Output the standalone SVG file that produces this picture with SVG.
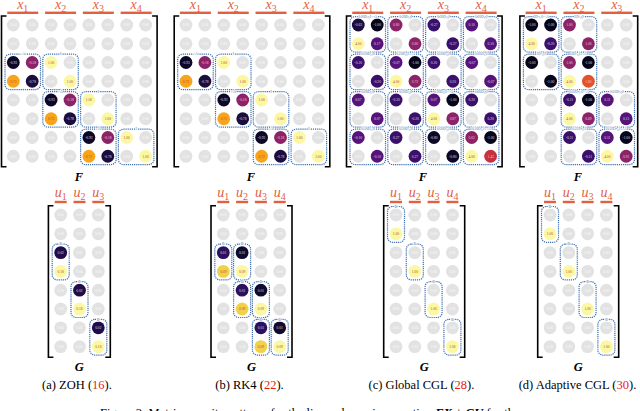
<svg xmlns="http://www.w3.org/2000/svg" xmlns:xlink="http://www.w3.org/1999/xlink" width="640" height="411" viewBox="0 0 640 411">
<style>
text{font-family:"Liberation Serif","Times New Roman","DejaVu Serif",serif}
.t{font-size:3.6px;text-anchor:middle}
.l{fill:#dcdcdc}.d{fill:#c4433a}.m{fill:#f4c2c8}
.bk{fill:none;stroke:#3f6fad;stroke-width:1.2;stroke-dasharray:1.2 0.9}
.bl{font-size:3.6px;fill:#3f6fad;text-anchor:middle;stroke:#fff;stroke-width:1.2;paint-order:stroke}
.br{fill:none;stroke:#000;stroke-width:1.6}
.lab{font-style:italic;font-size:14px;fill:#e2603f;text-anchor:middle}
.sub{font-style:normal;font-size:10px}
.bar{fill:#e2603f}
.mat{font-style:italic;font-weight:bold;font-size:12.5px;fill:#000;text-anchor:middle}
.cap{font-size:12.5px;fill:#000;text-anchor:middle}
.ref{fill:#e8201c}
</style>
<defs>
<g id="z"><circle r="6.4" fill="#e2e2e2"/><text y="1.3" class="t" fill="#fafafa">0.00</text></g>
</defs>

<!-- ===== Panel (a) ===== -->
<g id="panel-a">
<g id="panel-a-Flabels">
<text x="22.75" y="9" class="lab">x<tspan class="sub" dy="2.5">1</tspan></text>
<text x="60.55" y="9" class="lab">x<tspan class="sub" dy="2.5">2</tspan></text>
<text x="98.35" y="9" class="lab">x<tspan class="sub" dy="2.5">3</tspan></text>
<text x="136.15" y="9" class="lab">x<tspan class="sub" dy="2.5">4</tspan></text>
<rect class="bar" x="7.25" y="11.6" width="31" height="2.4"/>
<rect class="bar" x="45.05" y="11.6" width="31" height="2.4"/>
<rect class="bar" x="82.85" y="11.6" width="31" height="2.4"/>
<rect class="bar" x="120.65" y="11.6" width="31" height="2.4"/>
</g>
<path class="br" d="M6.5 16H1.5V166.7H6.5M152.1 16H157.1V166.7H152.1"/>
<g id="panel-a-F" transform="translate(13.3,25)">
<g><use href="#z" x="0"/><use href="#z" x="18.9"/><use href="#z" x="37.8"/><use href="#z" x="56.7"/><use href="#z" x="75.6"/><use href="#z" x="94.5"/><use href="#z" x="113.4"/><use href="#z" x="132.3"/></g>
<g transform="translate(0,18.75)"><use href="#z" x="0"/><use href="#z" x="18.9"/><use href="#z" x="37.8"/><use href="#z" x="56.7"/><use href="#z" x="75.6"/><use href="#z" x="94.5"/><use href="#z" x="113.4"/><use href="#z" x="132.3"/></g>
<g transform="translate(0,37.5)">
<circle cx="0" r="6.4" fill="#0d0828"/><text x="0" y="1.3" class="t l">-0.93</text>
<circle cx="18.9" r="6.4" fill="#8c2369"/><text x="18.9" y="1.3" class="t m">-0.18</text>
<circle cx="37.8" r="6.4" fill="#fbf8a3"/><text x="37.8" y="1.3" class="t d">1.00</text>
<use href="#z" x="56.7"/><use href="#z" x="75.6"/><use href="#z" x="94.5"/><use href="#z" x="113.4"/><use href="#z" x="132.3"/></g>
<g transform="translate(0,56.25)">
<circle cx="0" r="6.4" fill="#f8a41a"/><text x="0" y="1.3" class="t d">0.72</text>
<circle cx="18.9" r="6.4" fill="#1c0d40"/><text x="18.9" y="1.3" class="t l">-0.78</text>
<use href="#z" x="37.8"/>
<circle cx="56.7" r="6.4" fill="#fbf8a3"/><text x="56.7" y="1.3" class="t d">1.00</text>
<use href="#z" x="75.6"/><use href="#z" x="94.5"/><use href="#z" x="113.4"/><use href="#z" x="132.3"/></g>
<g transform="translate(0,75)">
<use href="#z" x="0"/><use href="#z" x="18.9"/>
<circle cx="37.8" r="6.4" fill="#0d0828"/><text x="37.8" y="1.3" class="t l">-0.93</text>
<circle cx="56.7" r="6.4" fill="#8c2369"/><text x="56.7" y="1.3" class="t m">-0.18</text>
<circle cx="75.6" r="6.4" fill="#fbf8a3"/><text x="75.6" y="1.3" class="t d">1.00</text>
<use href="#z" x="94.5"/><use href="#z" x="113.4"/><use href="#z" x="132.3"/></g>
<g transform="translate(0,93.75)">
<use href="#z" x="0"/><use href="#z" x="18.9"/>
<circle cx="37.8" r="6.4" fill="#f8a41a"/><text x="37.8" y="1.3" class="t d">0.72</text>
<circle cx="56.7" r="6.4" fill="#1c0d40"/><text x="56.7" y="1.3" class="t l">-0.78</text>
<use href="#z" x="75.6"/>
<circle cx="94.5" r="6.4" fill="#fbf8a3"/><text x="94.5" y="1.3" class="t d">1.00</text>
<use href="#z" x="113.4"/><use href="#z" x="132.3"/></g>
<g transform="translate(0,112.5)">
<use href="#z" x="0"/><use href="#z" x="18.9"/><use href="#z" x="37.8"/><use href="#z" x="56.7"/>
<circle cx="75.6" r="6.4" fill="#0d0828"/><text x="75.6" y="1.3" class="t l">-0.93</text>
<circle cx="94.5" r="6.4" fill="#8c2369"/><text x="94.5" y="1.3" class="t m">-0.18</text>
<circle cx="113.4" r="6.4" fill="#fbf8a3"/><text x="113.4" y="1.3" class="t d">1.00</text>
<use href="#z" x="132.3"/></g>
<g transform="translate(0,131.25)">
<use href="#z" x="0"/><use href="#z" x="18.9"/><use href="#z" x="37.8"/><use href="#z" x="56.7"/>
<circle cx="75.6" r="6.4" fill="#f8a41a"/><text x="75.6" y="1.3" class="t d">0.72</text>
<circle cx="94.5" r="6.4" fill="#1c0d40"/><text x="94.5" y="1.3" class="t l">-0.78</text>
<use href="#z" x="113.4"/>
<circle cx="132.3" r="6.4" fill="#fbf8a3"/><text x="132.3" y="1.3" class="t d">1.00</text></g>
<rect class="bk" x="-8.3" y="29.2" width="35.5" height="35.35" rx="5"/><text class="bl" x="9.45" y="30.4">−A</text>
<rect class="bk" x="29.5" y="29.2" width="35.5" height="35.35" rx="5"/><text class="bl" x="47.25" y="30.4">I</text>
<rect class="bk" x="29.5" y="66.7" width="35.5" height="35.35" rx="5"/><text class="bl" x="47.25" y="67.9">−A</text>
<rect class="bk" x="67.3" y="66.7" width="35.5" height="35.35" rx="5"/><text class="bl" x="85.05" y="67.9">I</text>
<rect class="bk" x="67.3" y="104.2" width="35.5" height="35.35" rx="5"/><text class="bl" x="85.05" y="105.4">−A</text>
<rect class="bk" x="105.1" y="104.2" width="35.5" height="35.35" rx="5"/><text class="bl" x="122.85" y="105.4">I</text>
</g>
<text x="79" y="180.5" class="mat">F</text>
<g id="panel-a-Glabels">
<text x="60.7" y="197.3" class="lab">u<tspan class="sub" dy="2.5">1</tspan></text>
<text x="79.5" y="197.3" class="lab">u<tspan class="sub" dy="2.5">2</tspan></text>
<text x="98.3" y="197.3" class="lab">u<tspan class="sub" dy="2.5">3</tspan></text>
<rect class="bar" x="54.7" y="200.8" width="12" height="2.4"/>
<rect class="bar" x="73.5" y="200.8" width="12" height="2.4"/>
<rect class="bar" x="92.3" y="200.8" width="12" height="2.4"/>
</g>
<path class="br" d="M53.4 205.7H48.4V357.2H53.4M105.3 205.7H110.3V357.2H105.3"/>
<g id="panel-a-G" transform="translate(60.7,215)">
<g><use href="#z" x="0"/><use href="#z" x="18.8"/><use href="#z" x="37.6"/></g>
<g transform="translate(0,18.8)"><use href="#z" x="0"/><use href="#z" x="18.8"/><use href="#z" x="37.6"/></g>
<g transform="translate(0,37.6)"><circle cx="0" r="6.4" fill="#210c4a"/><text x="0" y="1.3" class="t l">0.02</text><use href="#z" x="18.8"/><use href="#z" x="37.6"/></g>
<g transform="translate(0,56.4)"><circle cx="0" r="6.4" fill="#fbf8a3"/><text x="0" y="1.3" class="t d">0.18</text><use href="#z" x="18.8"/><use href="#z" x="37.6"/></g>
<g transform="translate(0,75.2)"><use href="#z" x="0"/><circle cx="18.8" r="6.4" fill="#210c4a"/><text x="18.8" y="1.3" class="t l">0.02</text><use href="#z" x="37.6"/></g>
<g transform="translate(0,94)"><use href="#z" x="0"/><circle cx="18.8" r="6.4" fill="#fbf8a3"/><text x="18.8" y="1.3" class="t d">0.18</text><use href="#z" x="37.6"/></g>
<g transform="translate(0,112.8)"><use href="#z" x="0"/><use href="#z" x="18.8"/><circle cx="37.6" r="6.4" fill="#210c4a"/><text x="37.6" y="1.3" class="t l">0.02</text></g>
<g transform="translate(0,131.6)"><use href="#z" x="0"/><use href="#z" x="18.8"/><circle cx="37.6" r="6.4" fill="#fbf8a3"/><text x="37.6" y="1.3" class="t d">0.18</text></g>
<rect class="bk" x="-8.5" y="29.1" width="17" height="35.8" rx="5"/><text class="bl" x="0" y="30.3">B</text>
<rect class="bk" x="10.3" y="66.7" width="17" height="35.8" rx="5"/><text class="bl" x="18.8" y="67.9">B</text>
<rect class="bk" x="29.1" y="104.3" width="17" height="35.8" rx="5"/><text class="bl" x="37.6" y="105.5">B</text>
</g>
<text x="79.3" y="370.5" class="mat">G</text>
<text x="77" y="389" class="cap">(a) ZOH (<tspan class="ref">16</tspan>).</text>
</g>

<!-- ===== Panel (b) ===== -->
<g id="panel-b">
<g id="panel-b-Flabels">
<text x="195.45" y="9" class="lab">x<tspan class="sub" dy="2.5">1</tspan></text>
<text x="233.25" y="9" class="lab">x<tspan class="sub" dy="2.5">2</tspan></text>
<text x="271.05" y="9" class="lab">x<tspan class="sub" dy="2.5">3</tspan></text>
<text x="308.85" y="9" class="lab">x<tspan class="sub" dy="2.5">4</tspan></text>
<rect class="bar" x="179.95" y="11.6" width="31" height="2.4"/>
<rect class="bar" x="217.75" y="11.6" width="31" height="2.4"/>
<rect class="bar" x="255.55" y="11.6" width="31" height="2.4"/>
<rect class="bar" x="293.35" y="11.6" width="31" height="2.4"/>
</g>
<path class="br" d="M179.2 16H174.2V166.7H179.2M324.8 16H329.8V166.7H324.8"/>
<g id="panel-b-F" transform="translate(186,25)">
<g><use href="#z" x="0"/><use href="#z" x="18.9"/><use href="#z" x="37.8"/><use href="#z" x="56.7"/><use href="#z" x="75.6"/><use href="#z" x="94.5"/><use href="#z" x="113.4"/><use href="#z" x="132.3"/></g>
<g transform="translate(0,18.75)"><use href="#z" x="0"/><use href="#z" x="18.9"/><use href="#z" x="37.8"/><use href="#z" x="56.7"/><use href="#z" x="75.6"/><use href="#z" x="94.5"/><use href="#z" x="113.4"/><use href="#z" x="132.3"/></g>
<g transform="translate(0,37.5)">
<circle cx="0" r="6.4" fill="#0d0828"/><text x="0" y="1.3" class="t l">-0.93</text>
<circle cx="18.9" r="6.4" fill="#8c2369"/><text x="18.9" y="1.3" class="t m">-0.18</text>
<circle cx="37.8" r="6.4" fill="#fbf8a3"/><text x="37.8" y="1.3" class="t d">1.00</text>
<use href="#z" x="56.7"/><use href="#z" x="75.6"/><use href="#z" x="94.5"/><use href="#z" x="113.4"/><use href="#z" x="132.3"/></g>
<g transform="translate(0,56.25)">
<circle cx="0" r="6.4" fill="#f8a41a"/><text x="0" y="1.3" class="t d">0.72</text>
<circle cx="18.9" r="6.4" fill="#1c0d40"/><text x="18.9" y="1.3" class="t l">-0.78</text>
<use href="#z" x="37.8"/>
<circle cx="56.7" r="6.4" fill="#fbf8a3"/><text x="56.7" y="1.3" class="t d">1.00</text>
<use href="#z" x="75.6"/><use href="#z" x="94.5"/><use href="#z" x="113.4"/><use href="#z" x="132.3"/></g>
<g transform="translate(0,75)">
<use href="#z" x="0"/><use href="#z" x="18.9"/>
<circle cx="37.8" r="6.4" fill="#0d0828"/><text x="37.8" y="1.3" class="t l">-0.93</text>
<circle cx="56.7" r="6.4" fill="#8c2369"/><text x="56.7" y="1.3" class="t m">-0.18</text>
<circle cx="75.6" r="6.4" fill="#fbf8a3"/><text x="75.6" y="1.3" class="t d">1.00</text>
<use href="#z" x="94.5"/><use href="#z" x="113.4"/><use href="#z" x="132.3"/></g>
<g transform="translate(0,93.75)">
<use href="#z" x="0"/><use href="#z" x="18.9"/>
<circle cx="37.8" r="6.4" fill="#f8a41a"/><text x="37.8" y="1.3" class="t d">0.72</text>
<circle cx="56.7" r="6.4" fill="#1c0d40"/><text x="56.7" y="1.3" class="t l">-0.78</text>
<use href="#z" x="75.6"/>
<circle cx="94.5" r="6.4" fill="#fbf8a3"/><text x="94.5" y="1.3" class="t d">1.00</text>
<use href="#z" x="113.4"/><use href="#z" x="132.3"/></g>
<g transform="translate(0,112.5)">
<use href="#z" x="0"/><use href="#z" x="18.9"/><use href="#z" x="37.8"/><use href="#z" x="56.7"/>
<circle cx="75.6" r="6.4" fill="#0d0828"/><text x="75.6" y="1.3" class="t l">-0.93</text>
<circle cx="94.5" r="6.4" fill="#8c2369"/><text x="94.5" y="1.3" class="t m">-0.18</text>
<circle cx="113.4" r="6.4" fill="#fbf8a3"/><text x="113.4" y="1.3" class="t d">1.00</text>
<use href="#z" x="132.3"/></g>
<g transform="translate(0,131.25)">
<use href="#z" x="0"/><use href="#z" x="18.9"/><use href="#z" x="37.8"/><use href="#z" x="56.7"/>
<circle cx="75.6" r="6.4" fill="#f8a41a"/><text x="75.6" y="1.3" class="t d">0.72</text>
<circle cx="94.5" r="6.4" fill="#1c0d40"/><text x="94.5" y="1.3" class="t l">-0.78</text>
<use href="#z" x="113.4"/>
<circle cx="132.3" r="6.4" fill="#fbf8a3"/><text x="132.3" y="1.3" class="t d">1.00</text></g>
<rect class="bk" x="-8.3" y="29.2" width="35.5" height="35.35" rx="5"/><text class="bl" x="9.45" y="30.4">−A</text>
<rect class="bk" x="29.5" y="29.2" width="35.5" height="35.35" rx="5"/><text class="bl" x="47.25" y="30.4">I</text>
<rect class="bk" x="29.5" y="66.7" width="35.5" height="35.35" rx="5"/><text class="bl" x="47.25" y="67.9">−A</text>
<rect class="bk" x="67.3" y="66.7" width="35.5" height="35.35" rx="5"/><text class="bl" x="85.05" y="67.9">I</text>
<rect class="bk" x="67.3" y="104.2" width="35.5" height="35.35" rx="5"/><text class="bl" x="85.05" y="105.4">−A</text>
<rect class="bk" x="105.1" y="104.2" width="35.5" height="35.35" rx="5"/><text class="bl" x="122.85" y="105.4">I</text>
</g>
<text x="251" y="180.5" class="mat">F</text>
<g id="panel-b-Glabels">
<text x="223.3" y="197.3" class="lab">u<tspan class="sub" dy="2.5">1</tspan></text>
<text x="242.1" y="197.3" class="lab">u<tspan class="sub" dy="2.5">2</tspan></text>
<text x="260.9" y="197.3" class="lab">u<tspan class="sub" dy="2.5">3</tspan></text>
<text x="279.7" y="197.3" class="lab">u<tspan class="sub" dy="2.5">4</tspan></text>
<rect class="bar" x="217.3" y="200.8" width="12" height="2.4"/>
<rect class="bar" x="236.1" y="200.8" width="12" height="2.4"/>
<rect class="bar" x="254.9" y="200.8" width="12" height="2.4"/>
<rect class="bar" x="273.7" y="200.8" width="12" height="2.4"/>
</g>
<path class="br" d="M216 205.7H211V357.2H216M287 205.7H292V357.2H287"/>
<g id="panel-b-G" transform="translate(223.3,215)">
<g><use href="#z" x="0"/><use href="#z" x="18.8"/><use href="#z" x="37.6"/><use href="#z" x="56.4"/></g>
<g transform="translate(0,18.8)"><use href="#z" x="0"/><use href="#z" x="18.8"/><use href="#z" x="37.6"/><use href="#z" x="56.4"/></g>
<g transform="translate(0,37.6)">
<circle cx="0" r="6.4" fill="#2c115f"/><text x="0" y="1.3" class="t l">0.01</text>
<circle cx="18.8" r="6.4" fill="#110a2e"/><text x="18.8" y="1.3" class="t l">0.01</text>
<use href="#z" x="37.6"/><use href="#z" x="56.4"/></g>
<g transform="translate(0,56.4)">
<circle cx="0" r="6.4" fill="#f2d14a"/><text x="0" y="1.3" class="t d">0.09</text>
<circle cx="18.8" r="6.4" fill="#fbf8a3"/><text x="18.8" y="1.3" class="t d">0.09</text>
<use href="#z" x="37.6"/><use href="#z" x="56.4"/></g>
<g transform="translate(0,75.2)">
<use href="#z" x="0"/>
<circle cx="18.8" r="6.4" fill="#2c115f"/><text x="18.8" y="1.3" class="t l">0.01</text>
<circle cx="37.6" r="6.4" fill="#110a2e"/><text x="37.6" y="1.3" class="t l">0.01</text>
<use href="#z" x="56.4"/></g>
<g transform="translate(0,94)">
<use href="#z" x="0"/>
<circle cx="18.8" r="6.4" fill="#f2d14a"/><text x="18.8" y="1.3" class="t d">0.09</text>
<circle cx="37.6" r="6.4" fill="#fbf8a3"/><text x="37.6" y="1.3" class="t d">0.09</text>
<use href="#z" x="56.4"/></g>
<g transform="translate(0,112.8)">
<use href="#z" x="0"/><use href="#z" x="18.8"/>
<circle cx="37.6" r="6.4" fill="#2c115f"/><text x="37.6" y="1.3" class="t l">0.01</text>
<circle cx="56.4" r="6.4" fill="#110a2e"/><text x="56.4" y="1.3" class="t l">0.01</text></g>
<g transform="translate(0,131.6)">
<use href="#z" x="0"/><use href="#z" x="18.8"/>
<circle cx="37.6" r="6.4" fill="#f2d14a"/><text x="37.6" y="1.3" class="t d">0.09</text>
<circle cx="56.4" r="6.4" fill="#fbf8a3"/><text x="56.4" y="1.3" class="t d">0.09</text></g>
<rect class="bk" x="-8.5" y="29.1" width="17" height="35.8" rx="5"/><text class="bl" x="0" y="30.3">B</text>
<rect class="bk" x="10.3" y="29.1" width="17" height="35.8" rx="5"/><text class="bl" x="18.8" y="30.3">B</text>
<rect class="bk" x="10.3" y="66.7" width="17" height="35.8" rx="5"/><text class="bl" x="18.8" y="67.9">B</text>
<rect class="bk" x="29.1" y="66.7" width="17" height="35.8" rx="5"/><text class="bl" x="37.6" y="67.9">B</text>
<rect class="bk" x="29.1" y="104.3" width="17" height="35.8" rx="5"/><text class="bl" x="37.6" y="105.5">B</text>
<rect class="bk" x="47.9" y="104.3" width="17" height="35.8" rx="5"/><text class="bl" x="56.4" y="105.5">B</text>
</g>
<text x="251.5" y="370.5" class="mat">G</text>
<text x="249.5" y="389" class="cap">(b) RK4 (<tspan class="ref">22</tspan>).</text>
</g>

<!-- ===== Panel (c) ===== -->
<g id="panel-c">
<g id="panel-c-Flabels">
<text x="367.75" y="9" class="lab">x<tspan class="sub" dy="2.5">1</tspan></text>
<text x="405.55" y="9" class="lab">x<tspan class="sub" dy="2.5">2</tspan></text>
<text x="443.35" y="9" class="lab">x<tspan class="sub" dy="2.5">3</tspan></text>
<text x="481.15" y="9" class="lab">x<tspan class="sub" dy="2.5">4</tspan></text>
<rect class="bar" x="352.25" y="11.6" width="31" height="2.4"/>
<rect class="bar" x="390.05" y="11.6" width="31" height="2.4"/>
<rect class="bar" x="427.85" y="11.6" width="31" height="2.4"/>
<rect class="bar" x="465.65" y="11.6" width="31" height="2.4"/>
</g>
<path class="br" d="M351.5 16H346.5V166.7H351.5M497.1 16H502.1V166.7H497.1"/>
<g id="panel-c-F" transform="translate(358.3,25)">
<g>
<circle cx="0" r="6.4" fill="#1c0d40"/><text x="0" y="1.3" class="t l">-0.63</text>
<circle cx="18.9" r="6.4" fill="#07051a"/><text x="18.9" y="1.3" class="t l">-1.00</text>
<circle cx="37.8" r="6.4" fill="#8c2369"/><text x="37.8" y="1.3" class="t m">0.80</text>
<use href="#z" x="56.7"/>
<circle cx="75.6" r="6.4" fill="#3b0f6c"/><text x="75.6" y="1.3" class="t l">-0.27</text>
<use href="#z" x="94.5"/>
<circle cx="113.4" r="6.4" fill="#57137c"/><text x="113.4" y="1.3" class="t l">0.10</text>
<use href="#z" x="132.3"/></g>
<g transform="translate(0,18.75)">
<circle cx="0" r="6.4" fill="#fbf8a3"/><text x="0" y="1.3" class="t d">4.00</text>
<circle cx="18.9" r="6.4" fill="#57137c"/><text x="18.9" y="1.3" class="t l">0.17</text>
<use href="#z" x="37.8"/>
<circle cx="56.7" r="6.4" fill="#8c2369"/><text x="56.7" y="1.3" class="t m">0.80</text>
<use href="#z" x="75.6"/>
<circle cx="94.5" r="6.4" fill="#3b0f6c"/><text x="94.5" y="1.3" class="t l">-0.27</text>
<use href="#z" x="113.4"/>
<circle cx="132.3" r="6.4" fill="#57137c"/><text x="132.3" y="1.3" class="t l">0.10</text></g>
<g transform="translate(0,37.5)">
<circle cx="0" r="6.4" fill="#3b0f6c"/><text x="0" y="1.3" class="t l">-0.20</text>
<use href="#z" x="18.9"/>
<circle cx="37.8" r="6.4" fill="#57137c"/><text x="37.8" y="1.3" class="t l">-0.07</text>
<circle cx="56.7" r="6.4" fill="#07051a"/><text x="56.7" y="1.3" class="t l">-1.00</text>
<circle cx="75.6" r="6.4" fill="#3b0f6c"/><text x="75.6" y="1.3" class="t l">0.20</text>
<use href="#z" x="94.5"/>
<circle cx="113.4" r="6.4" fill="#57137c"/><text x="113.4" y="1.3" class="t l">-0.07</text>
<use href="#z" x="132.3"/></g>
<g transform="translate(0,56.25)">
<use href="#z" x="0"/>
<circle cx="18.9" r="6.4" fill="#3b0f6c"/><text x="18.9" y="1.3" class="t l">-0.20</text>
<circle cx="37.8" r="6.4" fill="#fbf8a3"/><text x="37.8" y="1.3" class="t d">4.00</text>
<circle cx="56.7" r="6.4" fill="#8c2369"/><text x="56.7" y="1.3" class="t m">0.73</text>
<use href="#z" x="75.6"/>
<circle cx="94.5" r="6.4" fill="#3b0f6c"/><text x="94.5" y="1.3" class="t l">0.20</text>
<use href="#z" x="113.4"/>
<circle cx="132.3" r="6.4" fill="#57137c"/><text x="132.3" y="1.3" class="t l">-0.07</text></g>
<g transform="translate(0,75)">
<circle cx="0" r="6.4" fill="#57137c"/><text x="0" y="1.3" class="t l">0.07</text>
<use href="#z" x="18.9"/>
<circle cx="37.8" r="6.4" fill="#3b0f6c"/><text x="37.8" y="1.3" class="t l">-0.20</text>
<use href="#z" x="56.7"/>
<circle cx="75.6" r="6.4" fill="#57137c"/><text x="75.6" y="1.3" class="t l">0.07</text>
<circle cx="94.5" r="6.4" fill="#07051a"/><text x="94.5" y="1.3" class="t l">-1.00</text>
<circle cx="113.4" r="6.4" fill="#3b0f6c"/><text x="113.4" y="1.3" class="t l">0.20</text>
<use href="#z" x="132.3"/></g>
<g transform="translate(0,93.75)">
<use href="#z" x="0"/>
<circle cx="18.9" r="6.4" fill="#57137c"/><text x="18.9" y="1.3" class="t l">0.07</text>
<use href="#z" x="37.8"/>
<circle cx="56.7" r="6.4" fill="#3b0f6c"/><text x="56.7" y="1.3" class="t l">-0.20</text>
<circle cx="75.6" r="6.4" fill="#fbf8a3"/><text x="75.6" y="1.3" class="t d">4.00</text>
<circle cx="94.5" r="6.4" fill="#8c2369"/><text x="94.5" y="1.3" class="t m">0.87</text>
<use href="#z" x="113.4"/>
<circle cx="132.3" r="6.4" fill="#3b0f6c"/><text x="132.3" y="1.3" class="t l">0.20</text></g>
<g transform="translate(0,112.5)">
<circle cx="0" r="6.4" fill="#57137c"/><text x="0" y="1.3" class="t l">-0.10</text>
<use href="#z" x="18.9"/>
<circle cx="37.8" r="6.4" fill="#3b0f6c"/><text x="37.8" y="1.3" class="t l">0.27</text>
<use href="#z" x="56.7"/>
<circle cx="75.6" r="6.4" fill="#0d0828"/><text x="75.6" y="1.3" class="t l">-0.80</text>
<use href="#z" x="94.5"/>
<circle cx="113.4" r="6.4" fill="#8c2369"/><text x="113.4" y="1.3" class="t m">0.63</text>
<circle cx="132.3" r="6.4" fill="#07051a"/><text x="132.3" y="1.3" class="t l">-1.00</text></g>
<g transform="translate(0,131.25)">
<use href="#z" x="0"/>
<circle cx="18.9" r="6.4" fill="#57137c"/><text x="18.9" y="1.3" class="t l">-0.10</text>
<use href="#z" x="37.8"/>
<circle cx="56.7" r="6.4" fill="#3b0f6c"/><text x="56.7" y="1.3" class="t l">0.27</text>
<use href="#z" x="75.6"/>
<circle cx="94.5" r="6.4" fill="#0d0828"/><text x="94.5" y="1.3" class="t l">-0.80</text>
<circle cx="113.4" r="6.4" fill="#fbf8a3"/><text x="113.4" y="1.3" class="t d">4.00</text>
<circle cx="132.3" r="6.4" fill="#c7313e"/><text x="132.3" y="1.3" class="t m">1.43</text></g>
<rect class="bk" x="-8.3" y="-8.3" width="35.5" height="35.35" rx="5"/><text class="bl" x="9.45" y="-7.1">0.20D₁₁I − A</text>
<rect class="bk" x="29.5" y="-8.3" width="35.5" height="35.35" rx="5"/><text class="bl" x="47.25" y="-7.1">0.20D₁₂I</text>
<rect class="bk" x="67.3" y="-8.3" width="35.5" height="35.35" rx="5"/><text class="bl" x="85.05" y="-7.1">0.20D₁₃I</text>
<rect class="bk" x="105.1" y="-8.3" width="35.5" height="35.35" rx="5"/><text class="bl" x="122.85" y="-7.1">0.20D₁₄I</text>
<rect class="bk" x="-8.3" y="29.2" width="35.5" height="35.35" rx="5"/><text class="bl" x="9.45" y="30.4">0.20D₂₁I</text>
<rect class="bk" x="29.5" y="29.2" width="35.5" height="35.35" rx="5"/><text class="bl" x="47.25" y="30.4">0.20D₂₂I − A</text>
<rect class="bk" x="67.3" y="29.2" width="35.5" height="35.35" rx="5"/><text class="bl" x="85.05" y="30.4">0.20D₂₃I</text>
<rect class="bk" x="105.1" y="29.2" width="35.5" height="35.35" rx="5"/><text class="bl" x="122.85" y="30.4">0.20D₂₄I</text>
<rect class="bk" x="-8.3" y="66.7" width="35.5" height="35.35" rx="5"/><text class="bl" x="9.45" y="67.9">0.20D₃₁I</text>
<rect class="bk" x="29.5" y="66.7" width="35.5" height="35.35" rx="5"/><text class="bl" x="47.25" y="67.9">0.20D₃₂I</text>
<rect class="bk" x="67.3" y="66.7" width="35.5" height="35.35" rx="5"/><text class="bl" x="85.05" y="67.9">0.20D₃₃I − A</text>
<rect class="bk" x="105.1" y="66.7" width="35.5" height="35.35" rx="5"/><text class="bl" x="122.85" y="67.9">0.20D₃₄I</text>
<rect class="bk" x="-8.3" y="104.2" width="35.5" height="35.35" rx="5"/><text class="bl" x="9.45" y="105.4">0.20D₄₁I</text>
<rect class="bk" x="29.5" y="104.2" width="35.5" height="35.35" rx="5"/><text class="bl" x="47.25" y="105.4">0.20D₄₂I</text>
<rect class="bk" x="67.3" y="104.2" width="35.5" height="35.35" rx="5"/><text class="bl" x="85.05" y="105.4">0.20D₄₃I</text>
<rect class="bk" x="105.1" y="104.2" width="35.5" height="35.35" rx="5"/><text class="bl" x="122.85" y="105.4">0.20D₄₄I − A</text>
</g>
<text x="423" y="180.5" class="mat">F</text>
<g id="panel-c-Glabels">
<text x="396" y="197.3" class="lab">u<tspan class="sub" dy="2.5">1</tspan></text>
<text x="414.8" y="197.3" class="lab">u<tspan class="sub" dy="2.5">2</tspan></text>
<text x="433.6" y="197.3" class="lab">u<tspan class="sub" dy="2.5">3</tspan></text>
<text x="452.4" y="197.3" class="lab">u<tspan class="sub" dy="2.5">4</tspan></text>
<rect class="bar" x="390" y="200.8" width="12" height="2.4"/>
<rect class="bar" x="408.8" y="200.8" width="12" height="2.4"/>
<rect class="bar" x="427.6" y="200.8" width="12" height="2.4"/>
<rect class="bar" x="446.4" y="200.8" width="12" height="2.4"/>
</g>
<path class="br" d="M388.7 205.7H383.7V357.2H388.7M459.7 205.7H464.7V357.2H459.7"/>
<g id="panel-c-G" transform="translate(396,215)">
<g><use href="#z" x="0"/><use href="#z" x="18.8"/><use href="#z" x="37.6"/><use href="#z" x="56.4"/></g>
<g transform="translate(0,18.8)"><circle cx="0" r="6.4" fill="#fbf8a3"/><text x="0" y="1.3" class="t d">1.00</text><use href="#z" x="18.8"/><use href="#z" x="37.6"/><use href="#z" x="56.4"/></g>
<g transform="translate(0,37.6)"><use href="#z" x="0"/><use href="#z" x="18.8"/><use href="#z" x="37.6"/><use href="#z" x="56.4"/></g>
<g transform="translate(0,56.4)"><use href="#z" x="0"/><circle cx="18.8" r="6.4" fill="#fbf8a3"/><text x="18.8" y="1.3" class="t d">1.00</text><use href="#z" x="37.6"/><use href="#z" x="56.4"/></g>
<g transform="translate(0,75.2)"><use href="#z" x="0"/><use href="#z" x="18.8"/><use href="#z" x="37.6"/><use href="#z" x="56.4"/></g>
<g transform="translate(0,94)"><use href="#z" x="0"/><use href="#z" x="18.8"/><circle cx="37.6" r="6.4" fill="#fbf8a3"/><text x="37.6" y="1.3" class="t d">1.00</text><use href="#z" x="56.4"/></g>
<g transform="translate(0,112.8)"><use href="#z" x="0"/><use href="#z" x="18.8"/><use href="#z" x="37.6"/><use href="#z" x="56.4"/></g>
<g transform="translate(0,131.6)"><use href="#z" x="0"/><use href="#z" x="18.8"/><use href="#z" x="37.6"/><circle cx="56.4" r="6.4" fill="#fbf8a3"/><text x="56.4" y="1.3" class="t d">1.00</text></g>
<rect class="bk" x="-8.5" y="-8.5" width="17" height="35.8" rx="5"/><text class="bl" x="0" y="-7.3">B</text>
<rect class="bk" x="10.3" y="29.1" width="17" height="35.8" rx="5"/><text class="bl" x="18.8" y="30.3">B</text>
<rect class="bk" x="29.1" y="66.7" width="17" height="35.8" rx="5"/><text class="bl" x="37.6" y="67.9">B</text>
<rect class="bk" x="47.9" y="104.3" width="17" height="35.8" rx="5"/><text class="bl" x="56.4" y="105.5">B</text>
</g>
<text x="424.2" y="370.5" class="mat">G</text>
<text x="421.5" y="389" class="cap">(c) Global CGL (<tspan class="ref">28</tspan>).</text>
</g>

<!-- ===== Panel (d) ===== -->
<g id="panel-d">
<g id="panel-d-Flabels">
<text x="541.15" y="9" class="lab">x<tspan class="sub" dy="2.5">1</tspan></text>
<text x="578.95" y="9" class="lab">x<tspan class="sub" dy="2.5">2</tspan></text>
<text x="616.75" y="9" class="lab">x<tspan class="sub" dy="2.5">3</tspan></text>
<rect class="bar" x="525.65" y="11.6" width="31" height="2.4"/>
<rect class="bar" x="563.45" y="11.6" width="31" height="2.4"/>
<rect class="bar" x="601.25" y="11.6" width="31" height="2.4"/>
</g>
<path class="br" d="M524.9 16H519.9V166.7H524.9M632.7 16H637.7V166.7H632.7"/>
<g id="panel-d-F" transform="translate(531.7,25)">
<g>
<circle cx="0" r="6.4" fill="#07051a"/><text x="0" y="1.3" class="t l">-1.00</text>
<circle cx="18.9" r="6.4" fill="#07051a"/><text x="18.9" y="1.3" class="t l">-1.00</text>
<circle cx="37.8" r="6.4" fill="#8c2369"/><text x="37.8" y="1.3" class="t m">1.00</text>
<use href="#z" x="56.7"/><use href="#z" x="75.6"/><use href="#z" x="94.5"/></g>
<g transform="translate(0,18.75)">
<circle cx="0" r="6.4" fill="#fbf8a3"/><text x="0" y="1.3" class="t d">4.00</text>
<circle cx="18.9" r="6.4" fill="#3b0f6c"/><text x="18.9" y="1.3" class="t l">-0.20</text>
<use href="#z" x="37.8"/>
<circle cx="56.7" r="6.4" fill="#8c2369"/><text x="56.7" y="1.3" class="t m">1.00</text>
<use href="#z" x="75.6"/><use href="#z" x="94.5"/></g>
<g transform="translate(0,37.5)">
<circle cx="0" r="6.4" fill="#07051a"/><text x="0" y="1.3" class="t l">-1.00</text>
<use href="#z" x="18.9"/>
<circle cx="37.8" r="6.4" fill="#8c2369"/><text x="37.8" y="1.3" class="t m">1.00</text>
<circle cx="56.7" r="6.4" fill="#07051a"/><text x="56.7" y="1.3" class="t l">-1.00</text>
<use href="#z" x="75.6"/><use href="#z" x="94.5"/></g>
<g transform="translate(0,56.25)">
<use href="#z" x="0"/>
<circle cx="18.9" r="6.4" fill="#07051a"/><text x="18.9" y="1.3" class="t l">-1.00</text>
<circle cx="37.8" r="6.4" fill="#fbf8a3"/><text x="37.8" y="1.3" class="t d">4.00</text>
<circle cx="56.7" r="6.4" fill="#e4522a"/><text x="56.7" y="1.3" class="t m">1.80</text>
<use href="#z" x="75.6"/><use href="#z" x="94.5"/></g>
<g transform="translate(0,75)">
<use href="#z" x="0"/><use href="#z" x="18.9"/>
<circle cx="37.8" r="6.4" fill="#3b0f6c"/><text x="37.8" y="1.3" class="t l">-0.11</text>
<circle cx="56.7" r="6.4" fill="#07051a"/><text x="56.7" y="1.3" class="t l">-1.00</text>
<circle cx="75.6" r="6.4" fill="#57137c"/><text x="75.6" y="1.3" class="t l">0.11</text>
<use href="#z" x="94.5"/></g>
<g transform="translate(0,93.75)">
<use href="#z" x="0"/><use href="#z" x="18.9"/>
<circle cx="37.8" r="6.4" fill="#fbf8a3"/><text x="37.8" y="1.3" class="t d">4.00</text>
<circle cx="56.7" r="6.4" fill="#8c2369"/><text x="56.7" y="1.3" class="t m">0.69</text>
<use href="#z" x="75.6"/>
<circle cx="94.5" r="6.4" fill="#57137c"/><text x="94.5" y="1.3" class="t l">0.11</text></g>
<g transform="translate(0,112.5)">
<use href="#z" x="0"/><use href="#z" x="18.9"/>
<circle cx="37.8" r="6.4" fill="#3b0f6c"/><text x="37.8" y="1.3" class="t l">-0.11</text>
<use href="#z" x="56.7"/>
<circle cx="75.6" r="6.4" fill="#57137c"/><text x="75.6" y="1.3" class="t l">0.11</text>
<circle cx="94.5" r="6.4" fill="#07051a"/><text x="94.5" y="1.3" class="t l">-1.00</text></g>
<g transform="translate(0,131.25)">
<use href="#z" x="0"/><use href="#z" x="18.9"/><use href="#z" x="37.8"/>
<circle cx="56.7" r="6.4" fill="#3b0f6c"/><text x="56.7" y="1.3" class="t l">-0.11</text>
<circle cx="75.6" r="6.4" fill="#fbf8a3"/><text x="75.6" y="1.3" class="t d">4.00</text>
<circle cx="94.5" r="6.4" fill="#8c2369"/><text x="94.5" y="1.3" class="t m">0.91</text></g>
<rect class="bk" x="-8.3" y="-8.3" width="35.5" height="35.35" rx="5"/><text class="bl" x="9.45" y="-7.1">2D¹₁₁I − A</text>
<rect class="bk" x="29.5" y="-8.3" width="35.5" height="35.35" rx="5"/><text class="bl" x="47.25" y="-7.1">2D¹₁₂I</text>
<rect class="bk" x="-8.3" y="29.2" width="35.5" height="35.35" rx="5"/><text class="bl" x="9.45" y="30.4">2D¹₂₁I</text>
<rect class="bk" x="29.5" y="29.2" width="35.5" height="35.35" rx="5"/><text class="bl" x="47.25" y="30.4">2D¹₂₂I − A</text>
<rect class="bk" x="29.5" y="66.7" width="35.5" height="35.35" rx="5"/><text class="bl" x="47.25" y="67.9">0.22D²₁₁I − A</text>
<rect class="bk" x="67.3" y="66.7" width="35.5" height="35.35" rx="5"/><text class="bl" x="85.05" y="67.9">0.22D²₁₂I</text>
<rect class="bk" x="29.5" y="104.2" width="35.5" height="35.35" rx="5"/><text class="bl" x="47.25" y="105.4">0.22D²₂₁I</text>
<rect class="bk" x="67.3" y="104.2" width="35.5" height="35.35" rx="5"/><text class="bl" x="85.05" y="105.4">0.22D²₂₂I − A</text>
</g>
<text x="578" y="180.5" class="mat">F</text>
<g id="panel-d-Glabels">
<text x="550" y="197.3" class="lab">u<tspan class="sub" dy="2.5">1</tspan></text>
<text x="568.8" y="197.3" class="lab">u<tspan class="sub" dy="2.5">2</tspan></text>
<text x="587.6" y="197.3" class="lab">u<tspan class="sub" dy="2.5">3</tspan></text>
<text x="606.4" y="197.3" class="lab">u<tspan class="sub" dy="2.5">4</tspan></text>
<rect class="bar" x="544" y="200.8" width="12" height="2.4"/>
<rect class="bar" x="562.8" y="200.8" width="12" height="2.4"/>
<rect class="bar" x="581.6" y="200.8" width="12" height="2.4"/>
<rect class="bar" x="600.4" y="200.8" width="12" height="2.4"/>
</g>
<path class="br" d="M542.7 205.7H537.7V357.2H542.7M613.7 205.7H618.7V357.2H613.7"/>
<g id="panel-d-G" transform="translate(550,215)">
<g><use href="#z" x="0"/><use href="#z" x="18.8"/><use href="#z" x="37.6"/><use href="#z" x="56.4"/></g>
<g transform="translate(0,18.8)"><circle cx="0" r="6.4" fill="#fbf8a3"/><text x="0" y="1.3" class="t d">1.00</text><use href="#z" x="18.8"/><use href="#z" x="37.6"/><use href="#z" x="56.4"/></g>
<g transform="translate(0,37.6)"><use href="#z" x="0"/><use href="#z" x="18.8"/><use href="#z" x="37.6"/><use href="#z" x="56.4"/></g>
<g transform="translate(0,56.4)"><use href="#z" x="0"/><circle cx="18.8" r="6.4" fill="#fbf8a3"/><text x="18.8" y="1.3" class="t d">1.00</text><use href="#z" x="37.6"/><use href="#z" x="56.4"/></g>
<g transform="translate(0,75.2)"><use href="#z" x="0"/><use href="#z" x="18.8"/><use href="#z" x="37.6"/><use href="#z" x="56.4"/></g>
<g transform="translate(0,94)"><use href="#z" x="0"/><use href="#z" x="18.8"/><circle cx="37.6" r="6.4" fill="#fbf8a3"/><text x="37.6" y="1.3" class="t d">1.00</text><use href="#z" x="56.4"/></g>
<g transform="translate(0,112.8)"><use href="#z" x="0"/><use href="#z" x="18.8"/><use href="#z" x="37.6"/><use href="#z" x="56.4"/></g>
<g transform="translate(0,131.6)"><use href="#z" x="0"/><use href="#z" x="18.8"/><use href="#z" x="37.6"/><circle cx="56.4" r="6.4" fill="#fbf8a3"/><text x="56.4" y="1.3" class="t d">1.00</text></g>
<rect class="bk" x="-8.5" y="-8.5" width="17" height="35.8" rx="5"/><text class="bl" x="0" y="-7.3">B</text>
<rect class="bk" x="10.3" y="29.1" width="17" height="35.8" rx="5"/><text class="bl" x="18.8" y="30.3">B</text>
<rect class="bk" x="29.1" y="66.7" width="17" height="35.8" rx="5"/><text class="bl" x="37.6" y="67.9">B</text>
<rect class="bk" x="47.9" y="104.3" width="17" height="35.8" rx="5"/><text class="bl" x="56.4" y="105.5">B</text>
</g>
<text x="578.2" y="370.5" class="mat">G</text>
<text x="577.5" y="389" class="cap">(d) Adaptive CGL (<tspan class="ref">30</tspan>).</text>
</g>

<text x="100" y="417" class="cap" style="text-anchor:start">Figure 3: Matrix sparsity patterns for the linear dynamics equation <tspan font-style="italic" font-weight="bold">FX</tspan> + <tspan font-style="italic" font-weight="bold">GU</tspan> for the</text>
</svg>
